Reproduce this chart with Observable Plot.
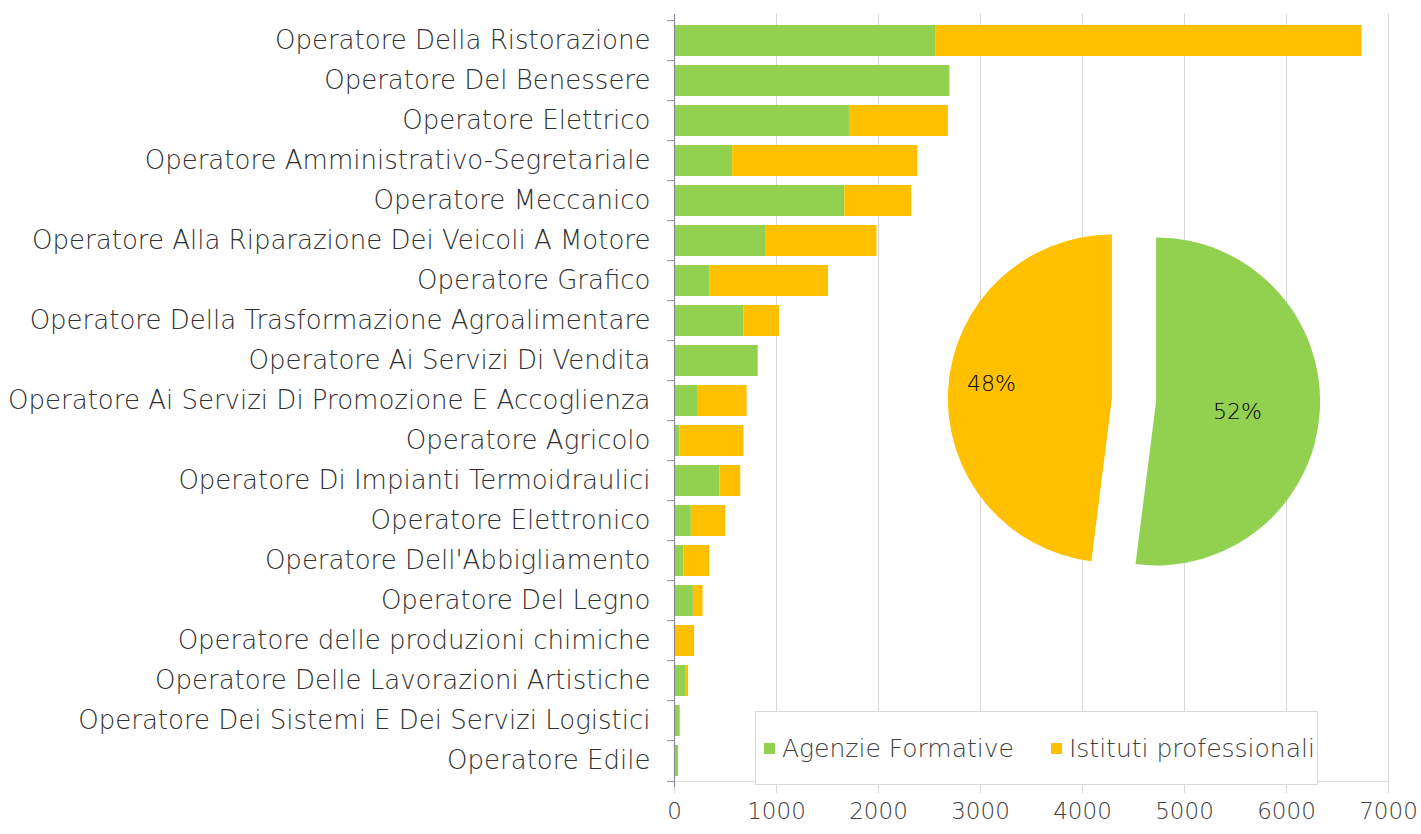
<!DOCTYPE html>
<html>
<head>
<meta charset="utf-8">
<script src="https://cdn.jsdelivr.net/npm/d3@7"></script>
<script src="https://cdn.jsdelivr.net/npm/@observablehq/plot@0.6"></script>
<style>
  html, body { margin: 0; padding: 0; background: #fff; }
  #wrap { position: relative; width: 1421px; height: 834px; overflow: hidden; font-family: "DejaVu Sans", sans-serif; }
  #wrap svg { position: absolute; }
  #wrap text { font-weight: 200; }
  #legend { position: absolute; left: 755px; top: 711px; width: 563px; height: 74px; background: #fff; border: 1px solid #d9d9d9; box-sizing: border-box; display: flex; align-items: center; padding-left: 8px; font-size: 25px; font-weight: 200; color: #404040; white-space: nowrap; }
  #legend .sw { display: inline-block; width: 11px; height: 11px; margin-right: 7px; }
  #legend .it { display: flex; align-items: center; margin-right: 37px; }
</style>
</head>
<body>
<div id="wrap"></div>
<script>
const categories = [
  "Operatore Della Ristorazione",
  "Operatore Del Benessere",
  "Operatore Elettrico",
  "Operatore Amministrativo-Segretariale",
  "Operatore Meccanico",
  "Operatore Alla Riparazione Dei Veicoli A Motore",
  "Operatore Grafico",
  "Operatore Della Trasformazione Agroalimentare",
  "Operatore Ai Servizi Di Vendita",
  "Operatore Ai Servizi Di Promozione E Accoglienza",
  "Operatore Agricolo",
  "Operatore Di Impianti Termoidraulici",
  "Operatore Elettronico",
  "Operatore Dell'Abbigliamento",
  "Operatore Del Legno",
  "Operatore delle produzioni chimiche",
  "Operatore Delle Lavorazioni Artistiche",
  "Operatore Dei Sistemi E Dei Servizi Logistici",
  "Operatore Edile"
];
const seriesNames = ["Agenzie Formative", "Istituti professionali"];
const agenzie  = [2560, 2700, 1715, 570, 1670, 900, 350, 680, 820, 225, 52, 446, 165, 92, 185, 0, 115, 56, 40];
const istituti = [4180, 0, 970, 1815, 655, 1085, 1160, 350, 0, 487, 628, 204, 335, 253, 95, 197, 23, 0, 0];
const xTicks = [0, 1000, 2000, 3000, 4000, 5000, 6000, 7000];
const pieShares = [52, 48];            // Agenzie Formative, Istituti professionali
const pieLabels = ["52%", "48%"];
const colors = ["#92D050", "#FFC000"];

const rows = [];
categories.forEach((c, i) => {
  rows.push({category: c, series: seriesNames[0], value: agenzie[i]});
  rows.push({category: c, series: seriesNames[1], value: istituti[i]});
});

const W = 1421, H = 834, mTop = 14, mBottom = 47, mLeft = 674, mRight = 33;
const step = (H - mTop - mBottom) / categories.length;
const FONT = "DejaVu Sans";

const main = Plot.plot({
  width: W, height: H,
  marginTop: mTop, marginBottom: mBottom, marginLeft: mLeft, marginRight: mRight,
  style: {fontFamily: FONT, background: "transparent", overflow: "visible"},
  x: {domain: [0, 7000]},
  y: {domain: categories, paddingInner: 0.22, paddingOuter: 0.11},
  color: {domain: seriesNames, range: colors},
  marks: [
    Plot.gridX(xTicks, {stroke: "#d9d9d9", strokeOpacity: 1}),
    Plot.barX(rows, {y: "category", x: "value", fill: "series"}),
    Plot.ruleY([categories[categories.length - 1]], {dy: step / 2, stroke: "#d9d9d9", strokeWidth: 1}),
    Plot.ruleX([0], {stroke: "#8a8a9c", strokeWidth: 1.2}),
    Plot.axisX(xTicks, {tickSize: 6, tickPadding: 9, stroke: "#d9d9d9", fontSize: 23, fill: "#404040", tickFormat: d => String(d), label: null}),
    Plot.axisY({tickSize: 0, tickPadding: 24, fontSize: 26, fill: "#303030", label: null}),
    Plot.axisY({tickSize: 7, tickFormat: () => "", dy: -step / 2, stroke: "#8a8a9c", label: null}),
    Plot.axisY([categories[categories.length - 1]], {tickSize: 7, tickFormat: () => "", dy: step / 2, stroke: "#8a8a9c", label: null})
  ]
});
main.style.left = "0px"; main.style.top = "0px";
document.getElementById("wrap").appendChild(main);

// Exploded pie inset
const explode = 0.135; // fraction of radius
const pie = Plot.plot({
  width: 420, height: 360,
  margin: 0,
  style: {fontFamily: FONT, background: "transparent", overflow: "visible"},
  x: {domain: [-1, 1], range: [46, 374], axis: null},
  y: {domain: [-1, 1], range: [344, 16], axis: null},
  marks: [
    (index, {x, y}) => {
      const cx = x(0), cy = y(0), r = x(1) - x(0);
      const arcs = d3.pie().sort(null)(pieShares);
      const arc = d3.arc().innerRadius(0).outerRadius(r);
      const g = d3.create("svg:g");
      const labelR = [0.5, 0.74], labelDa = [0.06, 0.06];
      arcs.forEach((a, i) => {
        const mid = (a.startAngle + a.endAngle) / 2;
        const ox = cx + explode * r * Math.sin(mid), oy = cy - explode * r * Math.cos(mid);
        const gg = g.append("g").attr("transform", `translate(${ox},${oy})`);
        gg.append("path").attr("d", arc(a)).attr("fill", colors[i]);
        const la = mid + labelDa[i];
        gg.append("text")
          .attr("x", labelR[i] * r * Math.sin(la))
          .attr("y", -labelR[i] * r * Math.cos(la))
          .attr("text-anchor", "middle").attr("dominant-baseline", "central")
          .attr("font-size", 22).attr("fill", "#000")
          .text(pieLabels[i]);
      });
      return g.node();
    }
  ]
});
pie.style.left = "924px"; pie.style.top = "220px";
document.getElementById("wrap").appendChild(pie);

// Legend
const leg = document.createElement("div");
leg.id = "legend";
seriesNames.forEach((s, i) => {
  const it = document.createElement("span"); it.className = "it";
  const sw = document.createElement("span"); sw.className = "sw"; sw.style.background = colors[i];
  it.appendChild(sw); it.appendChild(document.createTextNode(s));
  leg.appendChild(it);
});
document.getElementById("wrap").appendChild(leg);
</script>
</body>
</html>
